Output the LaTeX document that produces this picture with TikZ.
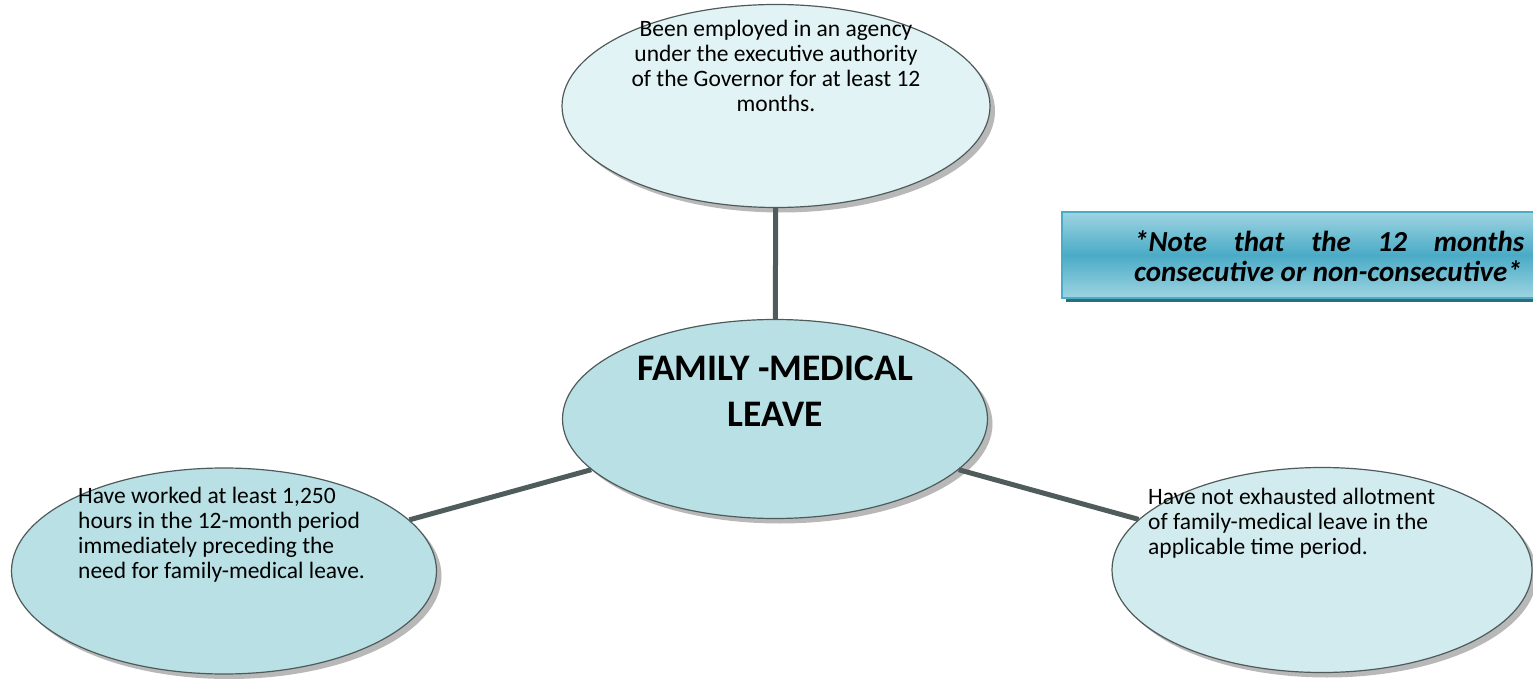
\documentclass[tikz,border=0pt]{standalone}
\usepackage{fontspec}
\setmainfont{Carlito}
\usetikzlibrary{shapes.geometric,shadows}
\definecolor{edgegray}{HTML}{4F5B5B}
\definecolor{linegray}{HTML}{505C5C}
\definecolor{filltop}{HTML}{E2F3F5}
\definecolor{fillmid}{HTML}{B9E0E4}
\definecolor{fillright}{HTML}{D2EBEE}
\definecolor{notelight}{HTML}{9ED4E2}
\definecolor{notedark}{HTML}{4AABC6}
\definecolor{noteedge}{HTML}{4BACC6}
\definecolor{noteshadow}{HTML}{2E6B7C}
\tikzset{
  bubble/.style={ellipse, draw=edgegray, line width=1.2pt, inner sep=0pt,
    drop shadow={shadow xshift=5pt, shadow yshift=-5pt, fill=black!28, opacity=1}},
  conn/.style={draw=linegray, line width=5pt},
  bodytext/.style={inner sep=0pt, font=\fontsize{23.5}{25}\selectfont},
  titletext/.style={inner sep=0pt, align=center, font=\fontsize{37.5}{46}\selectfont\bfseries},
}
\begin{document}
\begin{tikzpicture}[x=1pt,y=1pt]
\useasboundingbox (0,0) rectangle (1533,678);
\clip (0,0) rectangle (1533,678);

\node[bubble, fill=filltop, minimum width=428pt, minimum height=203pt] (top) at (776,572) {};
\node[bubble, fill=fillmid, minimum width=425pt, minimum height=199pt] (mid) at (775,259) {};
\node[bubble, fill=fillmid, minimum width=425pt, minimum height=206pt] (left) at (224,107) {};
\node[bubble, fill=fillright, minimum width=420pt, minimum height=205pt] (right) at (1322,108) {};

\draw[conn] (top) -- (mid);
\draw[conn] (left) -- (mid);
\draw[conn] (mid) -- (right);

\node[bodytext, align=center] (toptext) at (776,612)
  {Been employed in an agency\\under the executive authority\\of the Governor for at least 12\\months.};
\node[titletext] (midtext) at (775,287) {FAMILY -MEDICAL\\LEAVE};
\node[bodytext, align=left, anchor=west] (lefttext) at (78,143)
  {Have worked at least 1,250\\hours in the 12-month period\\immediately preceding the\\need for family-medical leave.};
\node[bodytext, align=left, anchor=west] (righttext) at (1148,155)
  {Have not exhausted allotment\\of family-medical leave in the\\applicable time period.};

% note box
\fill[noteshadow] (1066,376) rectangle (1545,462);
\shade[top color=notelight, bottom color=notelight, middle color=notedark, draw=noteedge, line width=2pt]
  (1062,380) rectangle (1540,466);
\node[inner sep=0pt, anchor=west, align=left,
  font=\fontsize{29}{30}\selectfont\bfseries\itshape] (note) at (1134,422)
  {\hbox to 390pt{*Note\hfill that\hfill the\hfill 12\hfill months}\\consecutive or non-consecutive*};
\end{tikzpicture}
\end{document}
